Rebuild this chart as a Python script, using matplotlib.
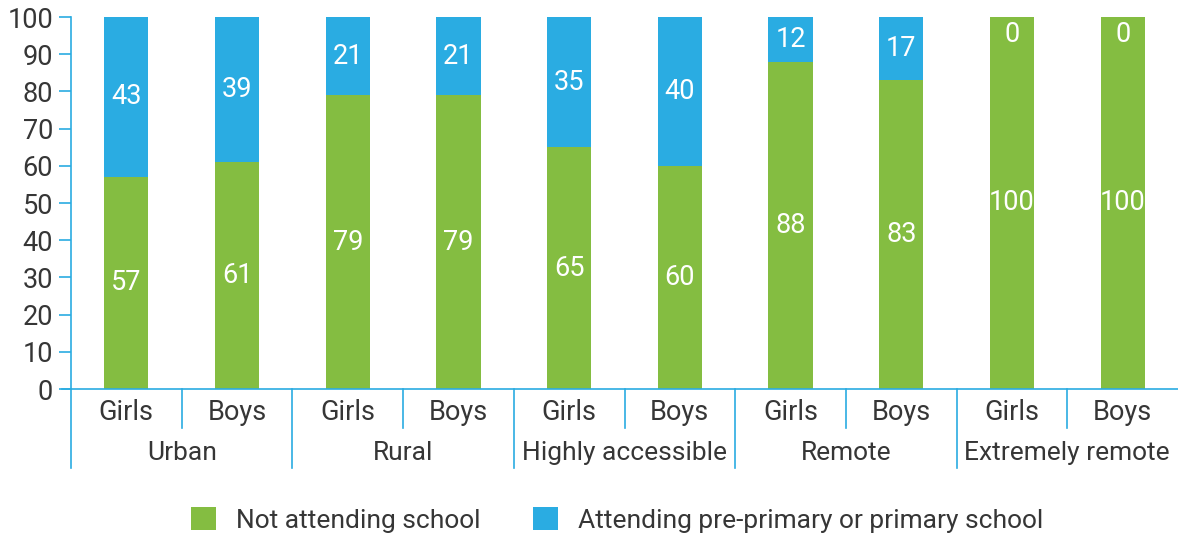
import matplotlib
matplotlib.use("Agg")
import matplotlib.pyplot as plt
import matplotlib.transforms as mtransforms
from matplotlib.patches import Patch

plt.rcParams['font.family'] = ['Roboto', 'DejaVu Sans']

groups = ["Urban", "Rural", "Highly accessible", "Remote", "Extremely remote"]
sexes = ["Girls", "Boys"]
not_attending = [57, 61, 79, 79, 65, 60, 88, 83, 100, 100]
attending = [43, 39, 21, 21, 35, 40, 12, 17, 0, 0]
yticks = [0, 10, 20, 30, 40, 50, 60, 70, 80, 90, 100]
legend_labels = ["Not attending school", "Attending pre-primary or primary school"]

GREEN = "#84BD41"
BLUE = "#2AACE2"
TEXT = "#363636"
FW = "normal"

fig = plt.figure(figsize=(11.78, 5.35), dpi=100)
ax = fig.add_axes([71/1178, 1 - 389/535, 1 - 71/1178, 372/535])

x = list(range(len(not_attending)))
w = 0.4
ax.bar(x, not_attending, width=w, color=GREEN, zorder=2)
ax.bar(x, attending, width=w, bottom=not_attending, color=BLUE, zorder=2)

for i in x:
    n = not_attending[i]
    a = attending[i]
    ax.text(i, n / 2, f"{n}", ha="center", va="center", color="white",
            fontsize=19.5, fontweight=FW)
    if a > 0:
        ax.text(i, n + a / 2, f"{a}", ha="center", va="center", color="white",
                fontsize=19.5, fontweight=FW)
    else:
        ax.text(i, n - 1, f"{a}", ha="center", va="top", color="white",
                fontsize=19.5, fontweight=FW)

ax.set_xlim(-0.5, len(x) - 0.5)
ax.set_ylim(0, 100)
ax.set_yticks(yticks)
ax.set_yticklabels([str(v) for v in yticks])
ax.tick_params(axis="y", colors=BLUE, labelcolor=TEXT, labelsize=19.5,
               length=9, width=1.2, direction="out", pad=4)
for lab in ax.get_yticklabels():
    lab.set_fontweight(FW)
ax.set_xticks([])
for s in ["top", "right"]:
    ax.spines[s].set_visible(False)
ax.spines["left"].set_color(BLUE)
ax.spines["bottom"].set_color(BLUE)
ax.spines["left"].set_linewidth(1.2)
ax.spines["bottom"].set_linewidth(1.2)
ax.spines["bottom"].set_bounds(-0.5 - 9/111, len(x) - 0.5)

trans = mtransforms.blended_transform_factory(ax.transData, ax.transAxes)
short = -(428 - 389) / 372
long_ = -(468 - 389) / 372
ax.plot([-0.5, -0.5], [0, long_], transform=trans, color=BLUE, lw=1.2, clip_on=False)
for g in range(len(groups)):
    mid = 2 * g + 0.5
    ax.plot([mid, mid], [0, short], transform=trans, color=BLUE, lw=1.2, clip_on=False)
    end = 2 * g + 1.5
    if g < len(groups) - 1:
        ax.plot([end, end], [0, long_], transform=trans, color=BLUE, lw=1.2, clip_on=False)
    ax.text(mid, -(453 - 389) / 372, groups[g], transform=trans, ha="center", va="center",
            fontsize=19, color=TEXT, fontweight=FW)
    for k, s in enumerate(sexes):
        ax.text(2 * g + k, -(413 - 389) / 372, s, transform=trans, ha="center", va="center",
                fontsize=19.5, color=TEXT, fontweight=FW)

handles = [Patch(facecolor=GREEN, edgecolor="none"), Patch(facecolor=BLUE, edgecolor="none")]
leg = fig.legend(handles, legend_labels, loc="center", bbox_to_anchor=(0.524, 1 - 520/535),
                 ncol=2, frameon=False, fontsize=19, handlelength=0.95, handleheight=0.95,
                 columnspacing=1.97, handletextpad=0.76)
for t in leg.get_texts():
    t.set_color(TEXT)
    t.set_fontweight(FW)

fig.savefig("out.png", dpi=100)
